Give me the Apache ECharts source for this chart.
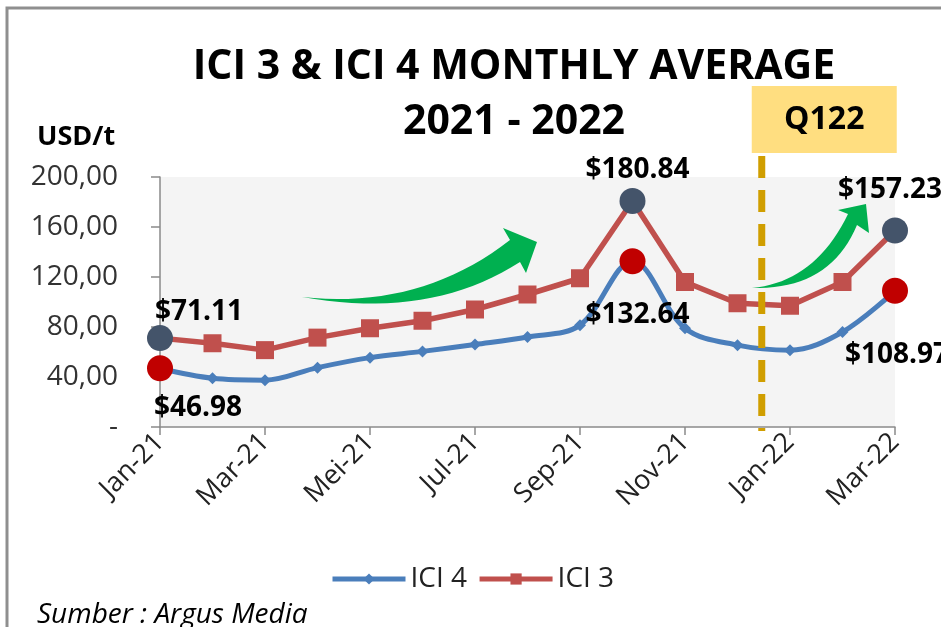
<!DOCTYPE html>
<html>
<head>
<meta charset="utf-8">
<script src="https://cdn.jsdelivr.net/npm/echarts@6/dist/echarts.min.js"></script>
<style>
  html, body { margin: 0; padding: 0; background: #fff; }
  #main { width: 941px; height: 627px; }
</style>
</head>
<body>
<div id="main"></div>
<script>
// bulan (kategori sumbu x)
const months = ['Jan-21', 'Feb-21', 'Mar-21', 'Apr-21', 'Mei-21', 'Jun-21', 'Jul-21', 'Agu-21',
  'Sep-21', 'Okt-21', 'Nov-21', 'Des-21', 'Jan-22', 'Feb-22', 'Mar-22'];
// harga rata-rata bulanan USD/t
const ici4 = [46.98, 39, 37.5, 47.5, 55.5, 60.5, 66, 72, 81.5, 132.64, 79, 65.5, 61.5, 76, 108.97];
const ici3 = [71.11, 67, 61.5, 71.5, 79, 85, 94, 106, 119, 180.84, 116, 99, 97, 116, 157.23];
// titik yang diberi label harga
const highlightIdx = [0, 9, 14];
const yTicks = [0, 40, 80, 120, 160, 200];
const titleLines = ['ICI 3 & ICI 4 MONTHLY AVERAGE', '2021 - 2022'];

const FONT = '"Open Sans", sans-serif';

// posisi label tiap titik (dx, dy dari pusat lingkaran)
const ici3LabelOffset = [[39, -26], [5, -31], [-5, -40]];
const ici4LabelOffset = [[38, 40], [5, 54], [2, 64]];

function markPoints(values, color, offsets) {
  return {
    symbol: 'circle',
    symbolSize: 26,
    itemStyle: { color: color },
    label: {
      show: true,
      fontFamily: FONT,
      fontWeight: 'bold',
      fontSize: 28,
      color: '#000',
      formatter: p => '$' + p.value.toFixed(2)
    },
    data: highlightIdx.map((i, k) => ({
      coord: [months[i], values[i]],
      value: values[i],
      label: { offset: offsets[k] }
    }))
  };
}

// kurva kuadrat -> titik-titik polygon (untuk panah hijau)
function quad(p0, c, p1, n) {
  let pts = [];
  for (let i = 0; i <= n; i++) {
    let t = i / n, u = 1 - t;
    pts.push([u * u * p0[0] + 2 * u * t * c[0] + t * t * p1[0],
              u * u * p0[1] + 2 * u * t * c[1] + t * t * p1[1]]);
  }
  return pts;
}
function arrow(tail, upCtrl, upEnd, head, lowStart, lowCtrl) {
  return [].concat(quad(tail, upCtrl, upEnd, 20), head, quad(lowStart, lowCtrl, tail, 20));
}

let myChart = echarts.init(document.getElementById('main'));

let option = {
  backgroundColor: '#fff',
  animation: false,
  title: {
    text: titleLines.join('\n'),
    left: 509,
    top: 35,
    textAlign: 'center',
    textStyle: {
      fontFamily: FONT,
      fontWeight: 'bold',
      fontSize: 41,
      lineHeight: 55,
      color: '#000'
    }
  },
  legend: {
    data: ['ICI 4', 'ICI 3'],
    left: 325,
    top: 560,
    itemWidth: 73,
    itemHeight: 14,
    itemGap: 10,
    lineStyle: { width: 5 },
    textStyle: { fontFamily: FONT, fontSize: 28, color: '#222' }
  },
  grid: {
    left: 160,
    right: 46,
    top: 177,
    bottom: 200,
    show: true,
    backgroundColor: '#F4F4F4',
    borderWidth: 0
  },
  xAxis: {
    type: 'category',
    data: months,
    boundaryGap: false,
    axisLine: { lineStyle: { color: '#8A8A8A', width: 1.5 } },
    axisTick: { interval: 1, length: 8, lineStyle: { color: '#8A8A8A', width: 1.5 } },
    axisLabel: {
      interval: 1,
      rotate: 45,
      margin: 11,
      fontFamily: FONT,
      fontSize: 27,
      color: '#222'
    },
    splitLine: { show: false }
  },
  yAxis: {
    type: 'value',
    min: yTicks[0],
    max: yTicks[yTicks.length - 1],
    interval: 40,
    axisLine: { show: true, lineStyle: { color: '#8A8A8A', width: 1.5 } },
    axisTick: { show: true, length: 9, lineStyle: { color: '#8A8A8A', width: 1.5 } },
    axisLabel: {
      margin: 42,
      fontFamily: FONT,
      fontSize: 28,
      color: '#333',
      formatter: v => v === 0 ? '-' : v.toFixed(2).replace('.', ',')
    },
    splitLine: { show: false }
  },
  series: [
    {
      name: 'ICI 4',
      type: 'line',
      data: ici4,
      smooth: 0.35,
      symbol: 'diamond',
      symbolSize: 12,
      lineStyle: { color: '#4A7EBB', width: 5 },
      itemStyle: { color: '#4A7EBB' },
      markPoint: markPoints(ici4, '#C00000', ici4LabelOffset)
    },
    {
      name: 'ICI 3',
      type: 'line',
      data: ici3,
      symbol: 'rect',
      symbolSize: 18,
      lineStyle: { color: '#C0504D', width: 5.5 },
      itemStyle: { color: '#C0504D' },
      markPoint: markPoints(ici3, '#44546A', ici3LabelOffset)
    }
  ]
};

myChart.setOption(option);

// garis putus-putus pemisah Q1 2022 (di antara Des-21 dan Jan-22)
const xDec = myChart.convertToPixel({ xAxisIndex: 0 }, 'Des-21');
const xJan = myChart.convertToPixel({ xAxisIndex: 0 }, 'Jan-22');
const qx = (xDec + xJan) / 2 - 2;
const yBase = myChart.convertToPixel({ yAxisIndex: 0 }, 0);

myChart.setOption({
  graphic: [
    {
      type: 'rect',
      shape: { x: 7, y: 8, width: 1000, height: 1000 },
      style: { fill: 'none', stroke: '#8F8F8F', lineWidth: 3 },
      silent: true,
      z: 0
    },
    {
      type: 'text',
      x: 37,
      y: 124,
      style: { text: 'USD/t', font: 'bold 27px ' + FONT, fill: '#000' }
    },
    {
      type: 'line',
      shape: { x1: qx, y1: 156, x2: qx, y2: yBase + 4 },
      style: { stroke: '#D09E00', lineWidth: 7, lineDash: [22, 12] },
      z: 10
    },
    {
      type: 'rect',
      shape: { x: qx - 10, y: 86, width: 145, height: 67 },
      style: { fill: '#FFDE80' },
      z: 10
    },
    {
      type: 'text',
      x: qx - 10 + 72.5,
      y: 120,
      style: {
        text: 'Q122', font: 'bold 32px ' + FONT, fill: '#000',
        textAlign: 'center', textVerticalAlign: 'middle'
      },
      z: 11
    },
    {
      type: 'polygon',
      shape: {
        points: arrow([302, 297], [420, 310], [510, 240],
          [[503, 228], [537, 242], [526, 273]], [520, 262], [430, 320])
      },
      style: { fill: '#00B050' },
      z: 12
    },
    {
      type: 'polygon',
      shape: {
        points: arrow([752, 288], [815, 282], [848, 214],
          [[838, 210], [866, 204], [869, 233]], [857, 225], [830, 290])
      },
      style: { fill: '#00B050' },
      z: 12
    },
    {
      type: 'text',
      x: 37,
      y: 601,
      style: { text: 'Sumber : Argus Media', font: 'italic 28px ' + FONT, fill: '#000' }
    }
  ]
});
</script>
</body>
</html>
